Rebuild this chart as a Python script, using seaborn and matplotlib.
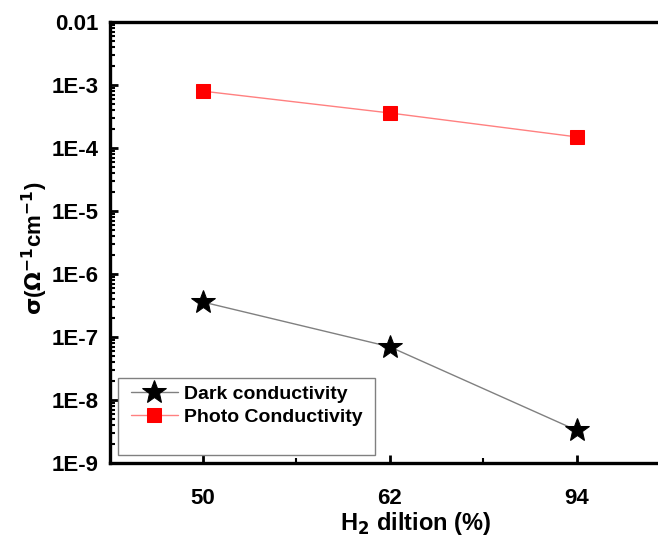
import matplotlib
matplotlib.use("Agg")
import matplotlib.pyplot as plt
import matplotlib.patches as mpatches
import seaborn as sns
import pandas as pd
from matplotlib.ticker import LogLocator, FixedLocator, NullFormatter

dilution = ["50", "62", "94"]
dark = [3.6e-7, 7.0e-8, 3.3e-9]
photo = [8.0e-4, 3.6e-4, 1.5e-4]
ytick_vals = [1e-9, 1e-8, 1e-7, 1e-6, 1e-5, 1e-4, 1e-3, 1e-2]
ytick_labels = ["1E-9", "1E-8", "1E-7", "1E-6", "1E-5", "1E-4", "1E-3", "0.01"]

df = pd.DataFrame({
    "H2": dilution * 2,
    "sigma": dark + photo,
    "series": ["Dark conductivity"] * 3 + ["Photo Conductivity"] * 3,
})

sns.set_style("white")
plt.rcParams["font.family"] = ["Liberation Sans", "DejaVu Sans"]
plt.rcParams["font.weight"] = "bold"
plt.rcParams["mathtext.default"] = "bf"
plt.rcParams["text.color"] = "black"
plt.rcParams["axes.labelcolor"] = "black"
plt.rcParams["xtick.color"] = "black"
plt.rcParams["ytick.color"] = "black"

W, H = 658, 536
fig = plt.figure(figsize=(W / 100, H / 100), dpi=100)
ax_w = 548 + 6.58
ax = fig.add_axes([110 / W, 73 / H, ax_w / W, 441 / H])

sns.lineplot(data=df[df.series == "Dark conductivity"], x="H2", y="sigma", ax=ax,
             color="#808080", lw=1, marker="*", markersize=18, markerfacecolor="black",
             markeredgecolor="black", label="Dark conductivity", sort=False)
sns.lineplot(data=df[df.series == "Photo Conductivity"], x="H2", y="sigma", ax=ax,
             color="#ff8080", lw=1, marker="s", markersize=10.5, markerfacecolor="#ff0000",
             markeredgecolor="#ff0000", label="Photo Conductivity", sort=False)

ax.set_yscale("log")
ax.set_ylim(1e-9, 1e-2)
ax.set_xlim(-0.495, 2.47)
ax.yaxis.set_major_locator(FixedLocator(ytick_vals))
ax.set_yticklabels(ytick_labels)
ax.yaxis.set_minor_locator(LogLocator(base=10, subs=range(2, 10), numticks=20))
ax.yaxis.set_minor_formatter(NullFormatter())
ax.xaxis.set_minor_locator(FixedLocator([0.5, 1.5]))

for s in ["left", "bottom", "top"]:
    ax.spines[s].set_linewidth(2.4)
    ax.spines[s].set_color("black")
ax.spines["right"].set_visible(False)

ax.tick_params(axis="both", which="major", direction="in", length=6, width=2,
               labelsize=16, pad=8, left=True, bottom=True, colors="black")
ax.tick_params(axis="both", which="minor", direction="in", length=3.5, width=1.5,
               left=True, bottom=True)
ax.tick_params(axis="x", which="major", pad=18)
for lab in ax.get_xticklabels() + ax.get_yticklabels():
    lab.set_fontweight("bold")

ax.set_xlabel("H$_2$ diltion (%)", fontsize=17, fontweight="bold", color="black")
ax.set_ylabel(r"$\sigma$($\Omega^{-1}$cm$^{-1}$)", fontsize=16, fontweight="bold", color="black")
ax.xaxis.set_label_coords((416 - 110) / ax_w, (463 - 510) / 441)
ax.yaxis.set_label_coords((50 - 110) / ax_w, (463 - 248) / 441)

leg = ax.legend(loc="upper left", bbox_to_anchor=(131 / W, 1 - 385 / H), bbox_transform=fig.transFigure,
                frameon=False, fontsize=14, handlelength=2.4,
                borderpad=0, labelspacing=0.3, borderaxespad=0, handletextpad=0.35)
for t in leg.get_texts():
    t.set_fontweight("bold")
    t.set_color("black")

frame = mpatches.Rectangle((118 / W, (H - 455) / H), 257 / W, 77 / H, transform=fig.transFigure,
                           facecolor="none", edgecolor="#808080", lw=1, zorder=5)
fig.patches.append(frame)

fig.savefig("out.png", dpi=100)
